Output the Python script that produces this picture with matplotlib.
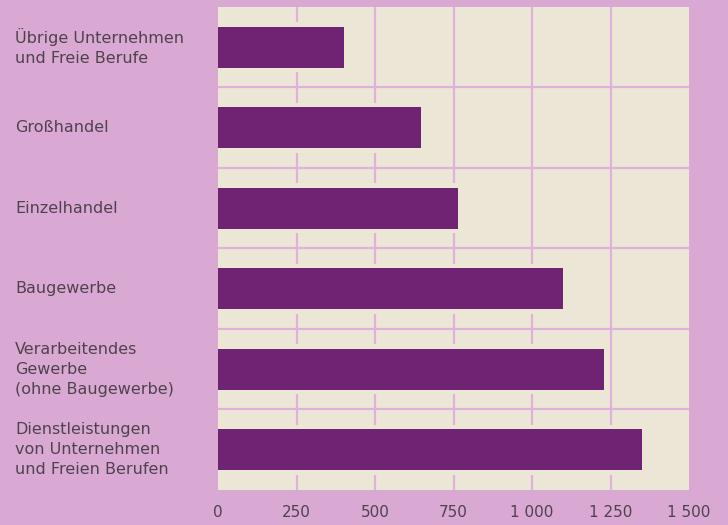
import matplotlib.pyplot as plt
import numpy as np

# Branches (top to bottom) and values
categories = [
    "Übrige Unternehmen\nund Freie Berufe",
    "Großhandel",
    "Einzelhandel",
    "Baugewerbe",
    "Verarbeitendes\nGewerbe\n(ohne Baugewerbe)",
    "Dienstleistungen\nvon Unternehmen\nund Freien Berufen",
]
values = [400, 645, 765, 1100, 1230, 1350]
x_ticks = [0, 250, 500, 750, 1000, 1250, 1500]
x_tick_labels = ["0", "250", "500", "750", "1 000", "1 250", "1 500"]

BG = "#D9A9D3"
PANEL = "#ECE6D6"
GRID = "#E0B2DA"
BAR = "#6E2473"
TEXT = "#4F424D"

plt.rcParams["font.family"] = ["DejaVu Sans"]


def main():
    fig = plt.figure(figsize=(7.28, 5.25), dpi=100, facecolor=BG)
    ax = fig.add_axes([0.2995, 0.0667, 0.647, 0.92])
    ax.set_facecolor(PANEL)

    y = np.arange(len(categories))

    # cream halo behind bars interrupts the grid lines
    ax.barh(y, values, height=0.62, color=PANEL, zorder=2)
    ax.barh(y, values, height=0.51, color=BAR, zorder=3)

    ax.set_xlim(0, 1500)
    ax.set_ylim(len(categories) - 0.5, -0.5)

    ax.set_xticks(x_ticks)
    ax.set_xticklabels(x_tick_labels, fontsize=11, color=TEXT)
    ax.set_yticks(y)
    ax.set_yticklabels([])
    ax.set_yticks(y[:-1] + 0.5, minor=True)

    ax.grid(True, axis="x", which="major", color=GRID, linewidth=1.6, zorder=1)
    ax.grid(True, axis="y", which="minor", color=GRID, linewidth=1.6, zorder=1)
    ax.set_axisbelow(True)
    # no grid line on the panel edges
    xgl = ax.get_xgridlines()
    xgl[0].set_visible(False)
    xgl[-1].set_visible(False)

    ax.tick_params(axis="x", length=0, pad=11)
    ax.tick_params(axis="y", which="both", length=0)
    for s in ax.spines.values():
        s.set_visible(False)

    # category labels, left aligned at the figure edge
    for yi, label in zip(y, categories):
        ax.annotate(label, xy=(0, yi), xycoords=("figure fraction", "data"),
                    xytext=(15, 0), textcoords="offset pixels",
                    ha="left", va="center", fontsize=11.5, color=TEXT,
                    linespacing=1.4)

    fig.savefig("out.png", dpi=100, facecolor=BG)
    plt.close(fig)


if __name__ == "__main__":
    main()
